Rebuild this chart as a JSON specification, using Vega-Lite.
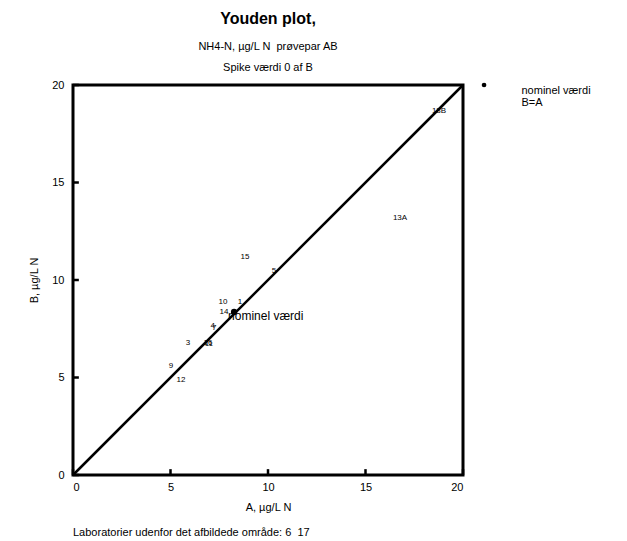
{
  "$schema": "https://vega.github.io/schema/vega-lite/v6.json",
  "width": 390,
  "height": 390,
  "autosize": {"type": "none"},
  "padding": {"left": 73, "top": 85, "right": 164, "bottom": 66},
  "background": "white",
  "config": {
    "font": "Liberation Sans",
    "view": {"stroke": "black", "strokeWidth": 3},
    "axis": {"grid": false, "domain": false, "ticks": false, "labelColor": "black", "titleColor": "black", "labelFontSize": 11, "titleFontSize": 11, "titleFontWeight": "normal", "labelFont": "Liberation Sans", "titleFont": "Liberation Sans"}
  },
  "title": {
    "text": "Youden plot,",
    "subtitle": ["NH4-N, µg/L N \u00a0prøvepar AB", "Spike værdi 0 af B"],
    "anchor": "middle",
    "font": "Liberation Sans",
    "fontSize": 16,
    "fontWeight": "bold",
    "color": "black",
    "subtitleFont": "Liberation Sans",
    "subtitleFontSize": 11,
    "subtitleColor": "black",
    "subtitleLineHeight": 21,
    "subtitlePadding": 14,
    "offset": 6
  },
  "datasets": {
    "labs": [
      {"lab": "13B", "A": 18.77, "B": 18.67},
      {"lab": "13A", "A": 16.77, "B": 13.18},
      {"lab": "15", "A": 8.82, "B": 11.18},
      {"lab": "5", "A": 10.31, "B": 10.46},
      {"lab": "10", "A": 7.69, "B": 8.87},
      {"lab": "1", "A": 8.56, "B": 8.87},
      {"lab": "14", "A": 7.74, "B": 8.36},
      {"lab": "4", "A": 7.16, "B": 7.66},
      {"lab": "7", "A": 7.24, "B": 7.54},
      {"lab": "3", "A": 5.9, "B": 6.77},
      {"lab": "16", "A": 6.92, "B": 6.77},
      {"lab": "11", "A": 6.97, "B": 6.72},
      {"lab": "9", "A": 5.03, "B": 5.59},
      {"lab": "12", "A": 5.54, "B": 4.87}
    ],
    "diag": [{"A": 0, "B": 0}, {"A": 20, "B": 20}],
    "nominel": [{"A": 8.26, "B": 8.36, "label": "nominel værdi"}],
    "tickvals": [{"v": 0, "lo": 0, "hi": 0.3}, {"v": 5, "lo": 0, "hi": 0.3}, {"v": 10, "lo": 0, "hi": 0.3}, {"v": 15, "lo": 0, "hi": 0.3}, {"v": 20, "lo": 0, "hi": 0.3}]
  },
  "layer": [
    {
      "data": {"name": "diag"},
      "mark": {"type": "line", "color": "black", "strokeWidth": 2.5},
      "encoding": {
        "x": {"field": "A", "type": "quantitative", "scale": {"domain": [0, 20], "nice": false}, "axis": {"values": [0, 5, 10, 15, 20], "labelPadding": 6, "title": "A, µg/L N", "titlePadding": 9}},
        "y": {"field": "B", "type": "quantitative", "scale": {"domain": [0, 20], "nice": false}, "axis": {"values": [0, 5, 10, 15, 20], "labelPadding": 9, "title": "B, µg/L N", "titlePadding": 12}}
      }
    },
    {
      "data": {"name": "tickvals"},
      "mark": {"type": "rule", "color": "black", "strokeWidth": 2.5},
      "encoding": {
        "x": {"field": "v", "type": "quantitative"},
        "y": {"field": "lo", "type": "quantitative"},
        "y2": {"field": "hi"}
      }
    },
    {
      "data": {"name": "tickvals"},
      "mark": {"type": "rule", "color": "black", "strokeWidth": 2.5},
      "encoding": {
        "y": {"field": "v", "type": "quantitative"},
        "x": {"field": "lo", "type": "quantitative"},
        "x2": {"field": "hi"}
      }
    },
    {
      "data": {"name": "labs"},
      "mark": {"type": "text", "fontSize": 8, "fill": "black", "align": "center", "baseline": "middle"},
      "encoding": {
        "x": {"field": "A", "type": "quantitative"},
        "y": {"field": "B", "type": "quantitative"},
        "text": {"field": "lab"}
      }
    },
    {
      "data": {"name": "nominel"},
      "mark": {"type": "point", "filled": true, "color": "black", "size": 40, "opacity": 1},
      "encoding": {
        "x": {"field": "A", "type": "quantitative"},
        "y": {"field": "B", "type": "quantitative"}
      }
    },
    {
      "data": {"name": "nominel"},
      "mark": {"type": "text", "fontSize": 12, "fill": "black", "align": "left", "baseline": "middle", "dx": -6, "dy": 4},
      "encoding": {
        "x": {"field": "A", "type": "quantitative"},
        "y": {"field": "B", "type": "quantitative"},
        "text": {"field": "label"}
      }
    },
    {
      "data": {"values": [{"t": "•"}]},
      "mark": {"type": "point", "filled": true, "color": "black", "size": 22, "opacity": 1},
      "encoding": {"x": {"datum": 21.08}, "y": {"datum": 20}}
    },
    {
      "data": {"values": [{"t": "legend"}]},
      "mark": {"type": "text", "fontSize": 11, "fill": "black", "align": "left", "baseline": "middle", "lineHeight": 12},
      "encoding": {"x": {"datum": 23.0}, "y": {"datum": 19.7}, "text": {"value": ["nominel værdi", "B=A"]}}
    },
    {
      "data": {"values": [{"t": "Laboratorier udenfor det afbildede område: 6 \u00a017"}]},
      "mark": {"type": "text", "fontSize": 11, "fill": "black", "align": "left", "baseline": "middle"},
      "encoding": {"x": {"datum": 0}, "y": {"datum": -2.98}, "text": {"field": "t"}}
    }
  ]
}
